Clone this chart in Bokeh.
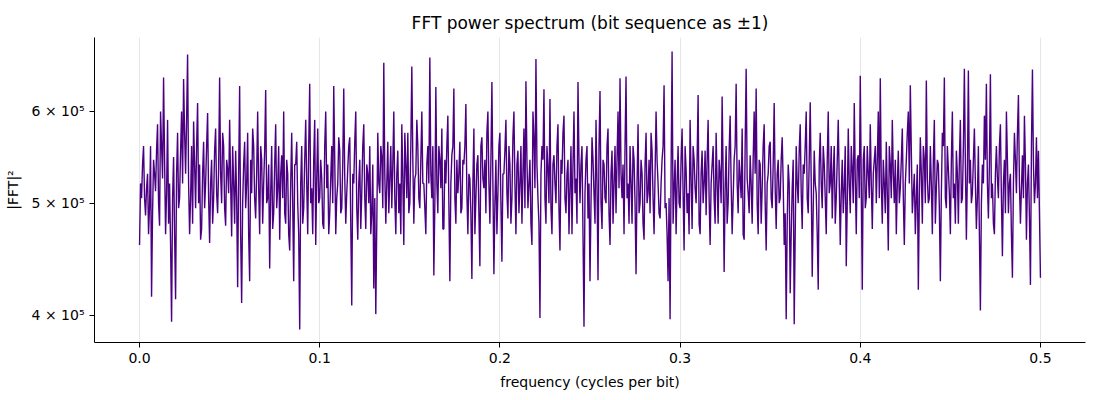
import numpy as np
from bokeh.plotting import figure
from bokeh.models import Range1d, FixedTicker, ColumnDataSource
from bokeh.embed import file_html
from bokeh.resources import INLINE

# |FFT|^2 values in thousands: even bins (k = 0, 2, ..., 900)
power_even_k = [
    460, 505, 560, 488, 530, 497, 415, 545, 512, 585, 478, 560, 642, 470, 590, 520, 395, 548, 413, 575,
    505, 600, 640, 530, 672, 470, 560, 588, 495, 610, 540, 475, 565, 520, 598, 462, 545, 505, 580, 490,
    642, 500, 560, 478, 535, 590, 468, 520, 555, 423, 631, 410, 540, 495, 575, 428, 510, 560, 485, 600,
    470, 545, 520, 626, 505, 439, 560, 490, 585, 515, 465, 550, 600, 480, 530, 455, 575, 428, 540, 500,
    389, 560, 495, 590, 470, 634, 515, 545, 460, 580, 505, 525, 475, 600, 540, 490, 560, 631, 470, 520,
    555, 495, 628, 480, 535, 570, 408, 520, 600, 465, 545, 510, 585, 475, 530, 560, 490, 422, 401, 575,
    510, 548, 661, 480, 565, 525, 495, 600, 470, 555, 520, 585, 460, 540, 575, 500, 656, 480, 530, 560,
    495, 600, 520, 470, 560, 668, 505, 433, 630, 490, 545, 580, 475, 520, 595, 428, 550, 628, 480, 510,
    565, 495, 540, 609, 470, 525, 430, 580, 505, 550, 441, 570, 515, 490, 600, 480, 636, 434, 545, 510,
    575, 445, 530, 590, 485, 540, 505, 600, 470, 555, 520, 480, 580, 637, 495, 545, 460, 570, 666, 505,
    398, 560, 627, 480, 535, 615, 470, 550, 500, 585, 455, 530, 595, 490, 545, 515, 470, 600, 525, 636,
    500, 560, 391, 545, 485, 428, 570, 510, 590, 429, 625, 475, 540, 500, 580, 460, 555, 520, 490, 600,
    641, 505, 470, 643, 520, 560, 480, 545, 434, 585, 500, 530, 465, 575, 510, 490, 555, 470, 600, 520,
    485, 545, 632, 500, 428, 397, 676, 515, 470, 560, 495, 580, 455, 535, 510, 590, 475, 545, 500, 620,
    470, 555, 520, 488, 590, 460, 540, 505, 575, 480, 530, 618, 436, 560, 500, 595, 470, 545, 634, 490,
    525, 580, 465, 653, 510, 550, 480, 600, 628, 470, 540, 515, 585, 455, 530, 565, 495, 610, 475, 545,
    505, 570, 460, 397, 540, 418, 515, 393, 560, 500, 585, 475, 530, 600, 490, 611, 432, 555, 510, 421,
    575, 495, 540, 470, 600, 520, 485, 560, 505, 590, 460, 545, 515, 441, 580, 490, 535, 610, 470, 550,
    644, 421, 560, 505, 530, 585, 475, 545, 500, 600, 641, 480, 520, 565, 455, 540, 590, 500, 470, 555,
    515, 580, 460, 545, 600, 632, 490, 530, 505, 421, 570, 480, 545, 638, 500, 560, 470, 590, 515, 540,
    428, 575, 642, 495, 535, 470, 600, 520, 555, 480, 590, 505, 653, 465, 651, 545, 510, 580, 475, 560,
    404, 540, 595, 634, 485, 646, 520, 470, 560, 505, 585, 450, 545, 600, 490, 530, 431, 575, 510, 620,
    480, 550, 595, 465, 540, 425, 652, 500, 570, 555, 431,
]
# odd bins (k = 1, 3, ..., 899), in thousands
power_odd_k = [
    520, 540, 505, 515, 470, 560, 490, 530, 555, 500, 600, 525, 545, 510, 480, 460, 505, 470, 530, 495,
    555, 520, 575, 590, 520, 505, 480, 540, 560, 500, 465, 530, 495, 560, 505, 520, 480, 555, 510, 535,
    530, 575, 495, 545, 510, 520, 560, 480, 505, 530, 470, 500, 565, 520, 470, 545, 580, 505, 530, 515,
    560, 480, 555, 500, 540, 510, 475, 540, 495, 560, 530, 505, 490, 545, 470, 520, 500, 540, 565, 470,
    520, 480, 545, 520, 560, 500, 470, 590, 525, 500, 545, 480, 560, 515, 470, 525, 500, 545, 505, 570,
    490, 540, 525, 510, 560, 480, 530, 565, 495, 520, 475, 560, 505, 540, 500, 470, 540, 505, 480, 520,
    560, 495, 530, 520, 490, 560, 540, 505, 530, 490, 470, 525, 575, 505, 490, 560, 545, 525, 590, 505,
    545, 520, 495, 540, 520, 530, 560, 500, 520, 560, 515, 475, 545, 560, 500, 520, 560, 505, 545, 530,
    490, 545, 560, 510, 530, 490, 520, 470, 540, 490, 560, 525, 545, 575, 520, 545, 520, 500, 470, 560,
    500, 530, 555, 510, 560, 480, 570, 520, 540, 490, 560, 530, 495, 545, 520, 480, 600, 515, 540, 480,
    530, 545, 505, 560, 500, 495, 540, 520, 560, 495, 545, 575, 505, 530, 470, 560, 540, 510, 480, 545,
    540, 470, 510, 560, 520, 500, 545, 480, 520, 560, 500, 545, 505, 560, 490, 530, 480, 560, 545, 515,
    530, 540, 560, 505, 480, 520, 560, 500, 520, 490, 545, 480, 540, 500, 545, 575, 505, 530, 545, 490,
    520, 560, 495, 470, 505, 530, 480, 545, 520, 500, 545, 510, 560, 490, 470, 525, 560, 515, 545, 480,
    530, 500, 555, 545, 505, 520, 560, 480, 520, 545, 500, 530, 515, 480, 555, 520, 505, 560, 520, 545,
    505, 470, 560, 525, 490, 520, 545, 530, 500, 545, 480, 560, 500, 520, 560, 505, 540, 515, 530, 500,
    545, 520, 490, 480, 520, 470, 545, 470, 520, 555, 510, 540, 560, 505, 545, 520, 495, 520, 470, 540,
    520, 560, 505, 545, 510, 560, 530, 480, 545, 520, 510, 490, 560, 500, 520, 560, 500, 525, 545, 505,
    520, 545, 495, 560, 505, 520, 530, 560, 545, 505, 520, 545, 490, 510, 560, 505, 530, 545, 520, 500,
    545, 505, 520, 575, 520, 555, 510, 470, 540, 505, 530, 560, 500, 525, 505, 520, 545, 480, 545, 495,
    510, 560, 505, 560, 510, 545, 505, 480, 530, 545, 500, 560, 540, 530, 520, 500, 545, 520, 505, 470,
    500, 520, 545, 520, 540, 505, 480, 530, 525, 560, 505, 520, 490, 545, 520, 470, 520, 545, 575, 520,
    515, 505, 540, 520, 485, 560, 540, 520, 505, 490,
]

power_k = []
for i, v in enumerate(power_even_k):
    power_k.append(v)
    if i < len(power_odd_k):
        power_k.append(power_odd_k[i])
n_bins = len(power_k)
freq = np.arange(n_bins) / (2.0 * (n_bins - 1))   # cycles per bit, 0 .. 0.5
power = np.array(power_k, dtype=float) * 1000.0

x_ticks = [0.0, 0.1, 0.2, 0.3, 0.4, 0.5]
x_tick_labels = ["0.0", "0.1", "0.2", "0.3", "0.4", "0.5"]
y_ticks = [4e5, 5e5, 6e5]
y_tick_labels = ["4 × 10⁵", "5 × 10⁵", "6 × 10⁵"]

FONT = "DejaVu Sans"

p = figure(width=1092, height=392, y_axis_type="log",
           x_range=Range1d(-0.025, 0.525), y_range=Range1d(3.79e5, 6.95e5),
           output_backend="svg", toolbar_location=None,
           title="FFT power spectrum (bit sequence as ±1)",
           min_border_left=94, min_border_right=7, min_border_top=37, min_border_bottom=50)

src = ColumnDataSource(dict(f=freq, pw=power))
p.line("f", "pw", source=src, line_color="#4B0082", line_width=1.4)

p.title.text_font = FONT
p.title.text_font_size = "17px"
p.title.text_font_style = "normal"
p.title.align = "center"
p.title.text_color = "black"

p.outline_line_color = None
p.background_fill_color = "white"
p.border_fill_color = "white"

p.xgrid.ticker = FixedTicker(ticks=x_ticks)
p.xgrid.grid_line_color = "#e6e6e6"
p.xgrid.grid_line_width = 1
p.ygrid.grid_line_color = None

xa = p.xaxis[0]
xa.ticker = FixedTicker(ticks=x_ticks)
xa.major_label_overrides = {t: l for t, l in zip(x_ticks, x_tick_labels)}
xa.axis_label = "frequency (cycles per bit)"

ya = p.yaxis[0]
ya.ticker = FixedTicker(ticks=y_ticks, minor_ticks=[])
ya.major_label_overrides = {t: l for t, l in zip(y_ticks, y_tick_labels)}
ya.axis_label = "|FFT|²"

for ax in (xa, ya):
    ax.axis_line_color = "black"
    ax.axis_line_width = 1
    ax.major_tick_line_color = "black"
    ax.major_tick_out = 5
    ax.major_tick_in = 0
    ax.minor_tick_line_color = None
    ax.major_label_text_font = FONT
    ax.major_label_text_font_size = "14px"
    ax.major_label_text_color = "black"
    ax.axis_label_text_font = FONT
    ax.axis_label_text_font_size = "14px"
    ax.axis_label_text_font_style = "normal"
    ax.axis_label_text_color = "black"
    ax.axis_label_standoff = 8

open("out.html", "w").write(file_html(p, INLINE))
